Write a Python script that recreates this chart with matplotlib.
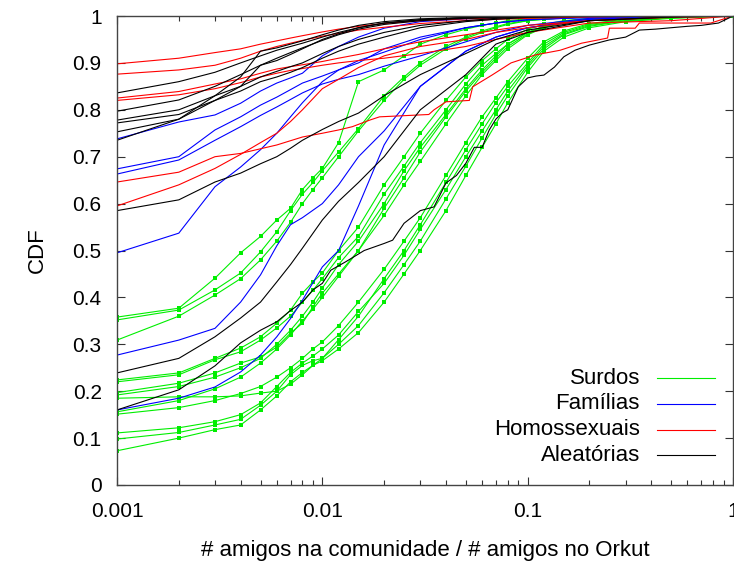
import matplotlib

matplotlib.use("Agg")
import matplotlib.pyplot as plt
from matplotlib.ticker import FixedLocator, LogLocator, NullFormatter

plt.rcParams["font.family"] = ["Liberation Sans", "DejaVu Sans"]
plt.rcParams["font.size"] = 15

# x grid of the "Surdos" curves (one value per point of each curve)
x_surdos = [0.001, 0.002, 0.003, 0.004, 0.005, 0.006, 0.007, 0.008, 0.009, 0.01,
            0.012, 0.015, 0.02, 0.025, 0.03, 0.04, 0.05, 0.06, 0.07, 0.08,
            0.1, 0.12, 0.15, 0.2, 0.3, 0.5, 1.0]

surdos = [
    [0.358, 0.377, 0.441, 0.495, 0.53, 0.565, 0.59, 0.63, 0.655, 0.675, 0.73, 0.86, 0.885, 0.915,
     0.94, 0.96, 0.972, 0.98, 0.985, 0.99, 0.994, 0.996, 0.997, 0.998, 0.999, 1, 1],
    [0.352, 0.373, 0.416, 0.452, 0.497, 0.54, 0.585, 0.62, 0.645, 0.67, 0.71, 0.76, 0.83, 0.87,
     0.9, 0.935, 0.955, 0.968, 0.977, 0.984, 0.99, 0.993, 0.996, 0.998, 0.999, 1, 1],
    [0.309, 0.36, 0.405, 0.44, 0.48, 0.52, 0.56, 0.6, 0.63, 0.655, 0.7, 0.755, 0.82, 0.865,
     0.895, 0.93, 0.952, 0.965, 0.975, 0.982, 0.99, 0.993, 0.996, 0.998, 0.999, 1, 1],
    [0.224, 0.239, 0.27, 0.292, 0.316, 0.345, 0.373, 0.409, 0.433, 0.452, 0.5, 0.55, 0.64, 0.7,
     0.75, 0.82, 0.87, 0.905, 0.93, 0.95, 0.972, 0.982, 0.99, 0.995, 0.998, 1, 1],
    [0.22, 0.235, 0.267, 0.284, 0.309, 0.335, 0.36, 0.39, 0.415, 0.44, 0.485, 0.53, 0.62, 0.68,
     0.73, 0.8, 0.855, 0.895, 0.92, 0.94, 0.965, 0.978, 0.988, 0.994, 0.997, 1, 1],
    [0.197, 0.217, 0.239, 0.26, 0.273, 0.294, 0.324, 0.345, 0.38, 0.409, 0.45, 0.5, 0.59, 0.655,
     0.71, 0.785, 0.84, 0.88, 0.91, 0.935, 0.962, 0.976, 0.987, 0.993, 0.997, 1, 1],
    [0.192, 0.21, 0.23, 0.25, 0.27, 0.3, 0.33, 0.36, 0.39, 0.42, 0.47, 0.52, 0.6, 0.67,
     0.72, 0.79, 0.845, 0.885, 0.915, 0.94, 0.965, 0.978, 0.988, 0.994, 0.997, 1, 1],
    [0.156, 0.18, 0.205, 0.23, 0.26, 0.29, 0.32, 0.35, 0.375, 0.4, 0.445, 0.5, 0.575, 0.64,
     0.69, 0.77, 0.83, 0.875, 0.905, 0.93, 0.96, 0.975, 0.986, 0.993, 0.997, 1, 1],
    [0.151, 0.165, 0.18, 0.195, 0.21, 0.23, 0.25, 0.27, 0.29, 0.305, 0.34, 0.39, 0.46, 0.52,
     0.57, 0.66, 0.73, 0.785, 0.825, 0.86, 0.91, 0.945, 0.968, 0.984, 0.993, 0.997, 1],
    [0.185, 0.188, 0.188, 0.19, 0.196, 0.2, 0.215, 0.235, 0.255, 0.27, 0.31, 0.36, 0.44, 0.5,
     0.555, 0.645, 0.715, 0.77, 0.815, 0.85, 0.9, 0.94, 0.965, 0.982, 0.992, 0.997, 1],
    [0.111, 0.122, 0.135, 0.15, 0.175, 0.21, 0.24, 0.26, 0.275, 0.29, 0.32, 0.37, 0.43, 0.49,
     0.545, 0.63, 0.7, 0.755, 0.8, 0.84, 0.895, 0.935, 0.962, 0.98, 0.99, 0.996, 1],
    [0.098, 0.112, 0.128, 0.14, 0.17, 0.2, 0.235, 0.255, 0.265, 0.27, 0.3, 0.34, 0.41, 0.47,
     0.52, 0.61, 0.68, 0.74, 0.79, 0.83, 0.89, 0.93, 0.96, 0.978, 0.99, 0.996, 1],
    [0.073, 0.1, 0.118, 0.128, 0.16, 0.19, 0.22, 0.24, 0.255, 0.265, 0.29, 0.325, 0.39, 0.45,
     0.5, 0.585, 0.66, 0.72, 0.77, 0.815, 0.88, 0.925, 0.955, 0.975, 0.988, 0.995, 1],
]

# x grid shared by the other three groups
x_grid = [0.001, 0.002, 0.003, 0.004, 0.005, 0.006, 0.007, 0.008, 0.01, 0.012,
          0.015, 0.02, 0.03, 0.05, 0.07, 0.1, 0.2, 0.5, 1.0]

familias = [
    [0.738, 0.774, 0.789, 0.814, 0.84, 0.857, 0.868, 0.878, 0.915, 0.935, 0.955, 0.974, 0.988, 0.994, 0.996, 0.998, 0.999, 1, 1],
    [0.674, 0.7, 0.757, 0.785, 0.81, 0.827, 0.843, 0.857, 0.872, 0.885, 0.9, 0.93, 0.955, 0.975, 0.985, 0.992, 0.997, 1, 1],
    [0.663, 0.693, 0.735, 0.764, 0.788, 0.806, 0.822, 0.836, 0.855, 0.865, 0.875, 0.893, 0.915, 0.945, 0.965, 0.98, 0.995, 1, 1],
    [0.495, 0.537, 0.636, 0.678, 0.715, 0.75, 0.785, 0.815, 0.86, 0.885, 0.905, 0.923, 0.95, 0.975, 0.985, 0.992, 0.997, 1, 1],
    [0.277, 0.309, 0.334, 0.39, 0.448, 0.51, 0.555, 0.57, 0.6, 0.64, 0.7, 0.755, 0.85, 0.925, 0.955, 0.975, 0.993, 0.999, 1],
    [0.16, 0.185, 0.209, 0.241, 0.277, 0.316, 0.355, 0.394, 0.465, 0.5, 0.595, 0.725, 0.85, 0.925, 0.955, 0.975, 0.993, 0.999, 1],
]

homossexuais = [
    [0.898, 0.91, 0.922, 0.93, 0.94, 0.947, 0.953, 0.958, 0.966, 0.972, 0.978, 0.984, 0.99, 0.994, 0.996, 0.997, 0.999, 1, 1],
    [0.876, 0.885, 0.895, 0.91, 0.925, 0.935, 0.942, 0.948, 0.957, 0.963, 0.97, 0.976, 0.984, 0.99, 0.993, 0.995, 0.998, 1, 1],
    [0.825, 0.839, 0.855, 0.866, 0.878, 0.887, 0.892, 0.896, 0.903, 0.91, 0.918, 0.93, 0.945, 0.96, 0.97, 0.98, 0.99, 0.997, 1],
    [0.82, 0.832, 0.845, 0.858, 0.87, 0.878, 0.884, 0.888, 0.895, 0.9, 0.905, 0.91, 0.92, 0.935, 0.95, 0.965, 0.985, 0.99, 1],
    [0.595, 0.64, 0.675, 0.705, 0.73, 0.75, 0.775, 0.8, 0.845, 0.865, 0.89, 0.915, 0.935, 0.95, 0.965, 0.975, 0.99, 0.998, 1],
]
# the stair-shaped "Homossexuais" curve has its own points
x_homo_stairs = [0.001, 0.002, 0.003, 0.004, 0.006, 0.008, 0.01, 0.012, 0.014, 0.017, 0.019,
                 0.033, 0.035, 0.04, 0.052, 0.054, 0.067, 0.083, 0.109, 0.144, 0.183, 0.245,
                 0.25, 0.334, 0.35, 0.78, 1.0]
y_homo_stairs = [0.646, 0.667, 0.7, 0.707, 0.725, 0.742, 0.75, 0.757, 0.764, 0.778, 0.785,
                 0.79, 0.8, 0.817, 0.82, 0.849, 0.874, 0.9, 0.917, 0.927, 0.942, 0.953,
                 0.974, 0.974, 0.985, 0.985, 1.0]

aleatorias = [
    [0.836, 0.86, 0.88, 0.9, 0.915, 0.927, 0.935, 0.942, 0.955, 0.965, 0.975, 0.985, 0.992, 0.996, 0.998, 0.999, 1, 1, 1],
    [0.797, 0.821, 0.85, 0.875, 0.895, 0.91, 0.922, 0.932, 0.948, 0.96, 0.972, 0.982, 0.99, 0.995, 0.997, 0.999, 1, 1, 1],
    [0.778, 0.8, 0.83, 0.85, 0.87, 0.882, 0.892, 0.9, 0.92, 0.935, 0.95, 0.965, 0.98, 0.99, 0.995, 0.998, 1, 1, 1],
    [0.772, 0.79, 0.82, 0.84, 0.86, 0.87, 0.88, 0.89, 0.91, 0.925, 0.94, 0.955, 0.975, 0.988, 0.993, 0.997, 0.999, 1, 1],
    [0.753, 0.78, 0.82, 0.85, 0.895, 0.905, 0.918, 0.93, 0.95, 0.962, 0.975, 0.985, 0.992, 0.996, 0.998, 0.999, 1, 1, 1],
    [0.735, 0.78, 0.83, 0.87, 0.925, 0.932, 0.94, 0.947, 0.96, 0.97, 0.98, 0.988, 0.994, 0.997, 0.998, 0.999, 1, 1, 1],
    [0.585, 0.608, 0.646, 0.665, 0.685, 0.7, 0.718, 0.735, 0.758, 0.775, 0.793, 0.83, 0.875, 0.92, 0.95, 0.97, 0.99, 0.998, 1],
    [0.239, 0.27, 0.316, 0.356, 0.39, 0.433, 0.47, 0.505, 0.565, 0.605, 0.645, 0.7, 0.8, 0.875, 0.94, 0.965, 0.99, 0.998, 1],
]
# rightmost "Aleatórias" curve, read with more points
x_alea_right = [0.001, 0.002, 0.003, 0.004, 0.005, 0.006, 0.007, 0.008, 0.009, 0.01, 0.011, 0.013,
                0.016, 0.02, 0.022, 0.025, 0.03, 0.035, 0.04, 0.045, 0.05, 0.055, 0.06, 0.065,
                0.07, 0.075, 0.08, 0.09, 0.1, 0.11, 0.12, 0.135, 0.15, 0.17, 0.2, 0.25, 0.3,
                0.35, 0.42, 0.5, 0.6, 0.7, 0.85, 1.0]
y_alea_right = [0.16, 0.203, 0.254, 0.303, 0.33, 0.348, 0.372, 0.39, 0.416, 0.43, 0.458, 0.476,
                0.5, 0.515, 0.522, 0.558, 0.585, 0.593, 0.644, 0.66, 0.686, 0.72, 0.72, 0.757,
                0.78, 0.793, 0.8, 0.849, 0.868, 0.872, 0.874, 0.891, 0.913, 0.927, 0.938, 0.949,
                0.955, 0.97, 0.972, 0.975, 0.978, 0.98, 0.985, 1.0]

legend_labels = ["Surdos", "Famílias", "Homossexuais", "Aleatórias"]
x_ticks = [0.001, 0.01, 0.1, 1]
x_tick_labels = ["0.001", "0.01", "0.1", "1"]
y_ticks = [0, 0.1, 0.2, 0.3, 0.4, 0.5, 0.6, 0.7, 0.8, 0.9, 1]
y_tick_labels = ["0", "0.1", "0.2", "0.3", "0.4", "0.5", "0.6", "0.7", "0.8", "0.9", "1"]

GREEN, BLUE, RED, BLACK = "#00ee00", "#0000ff", "#ff0000", "#000000"
LW = 0.8

fig = plt.figure(figsize=(7.34, 5.62), dpi=100)
ax = fig.add_axes([117 / 734, 77 / 562, 616 / 734, 469 / 562])

for ys in surdos:
    ax.plot(x_surdos, ys, color=GREEN, lw=LW, marker="s", ms=2.6, mew=0)
for ys in familias:
    ax.plot(x_grid, ys, color=BLUE, lw=LW)
for ys in homossexuais:
    ax.plot(x_grid, ys, color=RED, lw=LW)
ax.plot(x_homo_stairs, y_homo_stairs, color=RED, lw=LW)
for ys in aleatorias:
    ax.plot(x_grid, ys, color=BLACK, lw=LW)
ax.plot(x_alea_right, y_alea_right, color=BLACK, lw=LW)

ax.set_xscale("log")
ax.set_xlim(0.001, 1)
ax.set_ylim(0, 1)
ax.xaxis.set_major_locator(FixedLocator(x_ticks))
ax.set_xticklabels(x_tick_labels)
ax.xaxis.set_minor_locator(LogLocator(base=10, subs=range(2, 10)))
ax.xaxis.set_minor_formatter(NullFormatter())
ax.set_yticks(y_ticks)
ax.set_yticklabels(y_tick_labels)
ax.tick_params(which="both", direction="in", top=True, right=True, color="#333333")
ax.tick_params(which="major", length=6, width=0.8)
ax.tick_params(which="minor", length=3.5, width=0.8)
ax.tick_params(axis="x", pad=12)
ax.tick_params(axis="y", pad=11)
for spine in ax.spines.values():
    spine.set_color("#444444")
    spine.set_linewidth(1.0)

ax.set_xlabel("# amigos na comunidade / # amigos no Orkut", fontsize=16, labelpad=14)
ax.set_ylabel("CDF", fontsize=16, labelpad=18)

# legend drawn gnuplot-style: right-aligned text, sample line on the right
for i, (label, color) in enumerate(zip(legend_labels, [GREEN, BLUE, RED, BLACK])):
    y = 0.228 - i * 0.055
    ax.text(0.849, y, label, transform=ax.transAxes, ha="right", va="center", fontsize=16)
    ax.plot([0.877, 0.971], [y, y], transform=ax.transAxes, color=color, lw=LW)

fig.savefig("out.png", dpi=100)
